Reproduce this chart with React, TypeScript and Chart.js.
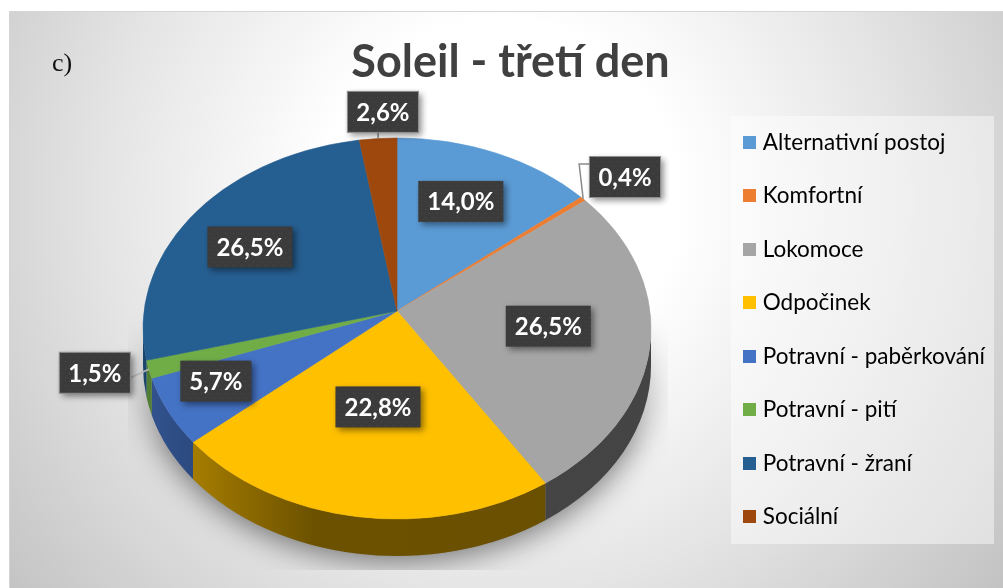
import React, { useEffect, useRef } from "react";
import { Chart, registerables } from "chart.js";

Chart.register(...registerables);

const categories = [
  "Alternativní postoj",
  "Komfortní",
  "Lokomoce",
  "Odpočinek",
  "Potravní - paběrkování",
  "Potravní - pití",
  "Potravní - žraní",
  "Sociální",
];
const shares = [14.0, 0.4, 26.5, 22.8, 5.7, 1.5, 26.5, 2.6];
const sliceColors = ["#5B9BD5", "#ED7D31", "#A5A5A5", "#FFC000", "#4472C4", "#70AD47", "#255E91", "#9E480E"];
const labelTexts = ["14,0%", "0,4%", "26,5%", "22,8%", "5,7%", "1,5%", "26,5%", "2,6%"];
// fraction of the projected radius at which each value label sits [x, y]
const labelReach = [
  [0.59, 0.7],
  [1.153, 1.234],
  [0.604, 0.44],
  [0.52, 0.466],
  [0.827, 0.666],
  [1.247, 0.99],
  [0.69, 0.68],
  [0.68, 1.155],
];
const titleText = "Soleil - třetí den";
const panelTag = "c)";

const PIE = { cx: 397, cy: 328.5, rx: 254, ry: 190.5, apexY: 311, depth: 37 };
const FONT = "Lato";

function shade(hex: string, k: number) {
  const n = parseInt(hex.slice(1), 16);
  const c = [(n >> 16) & 255, (n >> 8) & 255, n & 255].map((v) => Math.round(v * k));
  return `rgb(${c[0]},${c[1]},${c[2]})`;
}

// perspective: projective map of the unit disc that moves the disc's centre to the apex
const tilt = (PIE.apexY - PIE.cy) / PIE.ry;
function rimAngle(angle: number) {
  const x = Math.cos(angle);
  const y = Math.sin(angle);
  const d = 1 + tilt * y;
  return Math.atan2((y + tilt) / d, (x * Math.sqrt(1 - tilt * tilt)) / d);
}
// continuous version of rimAngle, never wrapped away from the source angle
function rimAngleNear(angle: number) {
  let a = rimAngle(angle);
  while (a < angle - Math.PI) a += Math.PI * 2;
  while (a > angle + Math.PI) a -= Math.PI * 2;
  return a;
}
function rimPoint(angle: number) {
  const a = rimAngleNear(angle);
  return { x: PIE.cx + PIE.rx * Math.cos(a), y: PIE.cy + PIE.ry * Math.sin(a) };
}
function labelPoint(angle: number, fx: number, fy: number) {
  const s = Math.sin(angle);
  const ry = s < 0 ? 173 : 208;
  return { x: PIE.cx + PIE.rx * fx * Math.cos(angle), y: PIE.apexY + ry * fy * s };
}

function dotPattern(ctx: CanvasRenderingContext2D) {
  const p = document.createElement("canvas");
  p.width = 8;
  p.height = 8;
  const c = p.getContext("2d")!;
  c.fillStyle = "#3b3b3b";
  c.fillRect(0, 0, 8, 8);
  c.fillStyle = "#4c4c4c";
  c.fillRect(1, 1, 1, 1);
  c.fillRect(5, 5, 1, 1);
  return ctx.createPattern(p, "repeat")!;
}

function swatch(color: string) {
  const p = document.createElement("canvas");
  p.width = 13;
  p.height = 13;
  const c = p.getContext("2d")!;
  c.fillStyle = color;
  c.fillRect(0, 0, 13, 13);
  return p;
}

const piePlugin = {
  id: "tiltedPie",
  afterLayout(chart: any) {
    const lg = chart.legend;
    const pad = lg.options.labels.padding;
    const w = lg.right - lg.left;
    lg.left = 743 + 4.5 - pad;
    lg.right = lg.left + w;
    const h = lg.bottom - lg.top;
    const mid = 329.5;
    lg.top = mid - h / 2;
    lg.bottom = mid + h / 2;
  },
  beforeDraw(chart: any) {
    const { ctx, width, height } = chart;
    ctx.save();
    ctx.fillStyle = "#fff";
    ctx.fillRect(0, 0, width, height);
    const g = ctx.createRadialGradient(500, 200, 0, 500, 200, 640);
    g.addColorStop(0, "#ffffff");
    g.addColorStop(0.28, "#ffffff");
    g.addColorStop(0.6, "#e6e6e6");
    g.addColorStop(1, "#c2c2c2");
    ctx.fillStyle = g;
    ctx.fillRect(9, 11, width - 9, height - 11);
    ctx.strokeStyle = "#d4d4d4";
    ctx.beginPath();
    ctx.moveTo(9.5, height);
    ctx.lineTo(9.5, 11.5);
    ctx.lineTo(width, 11.5);
    ctx.stroke();

    // legend plate
    ctx.fillStyle = "rgba(255,255,255,0.45)";
    ctx.fillRect(731, 116, 263, 428);

    ctx.fillStyle = "#111";
    ctx.font = "26px 'Liberation Serif'";
    ctx.textAlign = "left";
    ctx.textBaseline = "alphabetic";
    ctx.fillText(panelTag, 52, 71);
    ctx.restore();
  },
  beforeDatasetsDraw(chart: any) {
    const { ctx, width, height } = chart;
    const arcs = chart.getDatasetMeta(0).data;
    const { cx, cy, rx, ry, apexY, depth } = PIE;

    // soft cast shadow, fading in towards the bottom
    const off = document.createElement("canvas");
    off.width = width;
    off.height = height;
    const o = off.getContext("2d")!;
    o.save();
    o.beginPath();
    o.rect(128, 300, 540, 270);
    o.clip();
    o.shadowColor = "rgba(0,0,0,0.5)";
    o.shadowBlur = 30;
    o.shadowOffsetY = 6;
    o.fillStyle = "#8c8c8c";
    o.beginPath();
    o.ellipse(cx, cy + depth, rx, ry, 0, 0, Math.PI * 2);
    o.fill();
    o.restore();
    o.globalCompositeOperation = "destination-in";
    const fade = o.createLinearGradient(0, 310, 0, 450);
    fade.addColorStop(0, "rgba(0,0,0,0)");
    fade.addColorStop(1, "rgba(0,0,0,1)");
    o.fillStyle = fade;
    o.fillRect(0, 0, width, height);
    ctx.drawImage(off, 0, 0);

    // side wall
    arcs.forEach((el: any, i: number) => {
      const a0 = Math.max(rimAngleNear(el.startAngle), 0);
      const a1 = Math.min(rimAngleNear(el.endAngle), Math.PI);
      if (a1 <= a0) return;
      const g = ctx.createLinearGradient(cx - rx, 0, cx + rx, 0);
      g.addColorStop(0, shade(sliceColors[i], 0.74));
      g.addColorStop(0.34, shade(sliceColors[i], 0.42));
      g.addColorStop(1, shade(sliceColors[i], 0.41));
      ctx.fillStyle = g;
      ctx.beginPath();
      ctx.ellipse(cx, cy, rx, ry, 0, a0, a1);
      ctx.ellipse(cx, cy + depth, rx, ry, 0, a1, a0, true);
      ctx.closePath();
      ctx.fill();
    });

    // top face: each slice from the library's own angles
    arcs.forEach((el: any, i: number) => {
      const a0 = rimAngleNear(el.startAngle);
      const a1 = rimAngleNear(el.endAngle);
      ctx.fillStyle = sliceColors[i];
      ctx.strokeStyle = sliceColors[i];
      ctx.lineWidth = 0.6;
      ctx.beginPath();
      ctx.moveTo(cx, apexY);
      ctx.ellipse(cx, cy, rx, ry, 0, a0, a1);
      ctx.closePath();
      ctx.fill();
      ctx.stroke();
    });
    return false;
  },
  afterDraw(chart: any) {
    const { ctx } = chart;
    const arcs = chart.getDatasetMeta(0).data;
    const pattern = dotPattern(ctx);
    const mid = (el: any) => (el.startAngle + el.endAngle) / 2;

    ctx.save();
    ctx.strokeStyle = "#8a8a8a";
    ctx.lineWidth = 1.5;
    const outer1 = rimPoint(mid(arcs[1]));
    ctx.beginPath();
    ctx.moveTo(outer1.x, outer1.y);
    ctx.lineTo(outer1.x - 4, 164);
    ctx.lineTo(592, 164);
    ctx.stroke();
    const outer7 = rimPoint(mid(arcs[7]));
    ctx.beginPath();
    ctx.moveTo(outer7.x, outer7.y);
    ctx.lineTo(outer7.x, 130);
    ctx.stroke();
    const outer5 = rimPoint(mid(arcs[5]));
    ctx.strokeStyle = "#b5b5b5";
    ctx.beginPath();
    ctx.moveTo(outer5.x, outer5.y);
    ctx.lineTo(130, 378);
    ctx.stroke();

    ctx.font = `bold 24px ${FONT}`;
    ctx.textAlign = "center";
    ctx.textBaseline = "middle";
    arcs.forEach((el: any, i: number) => {
      const p = labelPoint(mid(el), labelReach[i][0], labelReach[i][1]);
      const w = ctx.measureText(labelTexts[i]).width + 18;
      const h = 41;
      ctx.save();
      ctx.shadowColor = "rgba(0,0,0,0.45)";
      ctx.shadowBlur = 6;
      ctx.shadowOffsetX = 3;
      ctx.shadowOffsetY = 3;
      ctx.fillStyle = pattern;
      ctx.fillRect(p.x - w / 2, p.y - h / 2, w, h);
      ctx.restore();
      if (i === 1 || i === 7 || i === 5) {
        ctx.strokeStyle = "#8f8f8f";
        ctx.lineWidth = 1;
        ctx.strokeRect(p.x - w / 2, p.y - h / 2, w, h);
      }
      ctx.fillStyle = "#fff";
      ctx.fillText(labelTexts[i], p.x, p.y + 1);
    });
    ctx.restore();
  },
};

export default function App() {
  const ref = useRef<HTMLCanvasElement>(null);
  useEffect(() => {
    const chart = new Chart(ref.current!, {
      type: "pie",
      data: {
        labels: categories,
        datasets: [{ data: shares, backgroundColor: sliceColors, borderWidth: 0 }],
      },
      plugins: [piePlugin],
      options: {
        responsive: false,
        animation: false,
        layout: { padding: { left: 18, top: 35, right: 0, bottom: 20 } },
        plugins: {
          title: {
            display: true,
            text: titleText,
            color: "#404040",
            font: { family: FONT, size: 45, weight: "bold", lineHeight: 1.2 },
            padding: { top: 0, bottom: 4 },
          },
          legend: {
            position: "right",
            labels: {
              color: "#404040",
              font: { family: FONT, size: 22.5 },
              usePointStyle: true,
              pointStyleWidth: 4,
              boxHeight: 13,
              padding: 31,
              generateLabels: (chart: any) =>
                categories.map((text, i) => ({
                  text,
                  index: i,
                  datasetIndex: 0,
                  fillStyle: sliceColors[i],
                  strokeStyle: sliceColors[i],
                  lineWidth: 0,
                  hidden: false,
                  pointStyle: swatch(sliceColors[i]),
                })),
            },
          },
          tooltip: { enabled: false },
        },
      },
    } as any);
    return () => chart.destroy();
  }, []);
  return (
    <div style={{ position: "absolute", left: 0, top: 0, width: 1003, height: 588 }}>
      <canvas ref={ref} width={1003} height={588} style={{ display: "block" }} />
    </div>
  );
}
